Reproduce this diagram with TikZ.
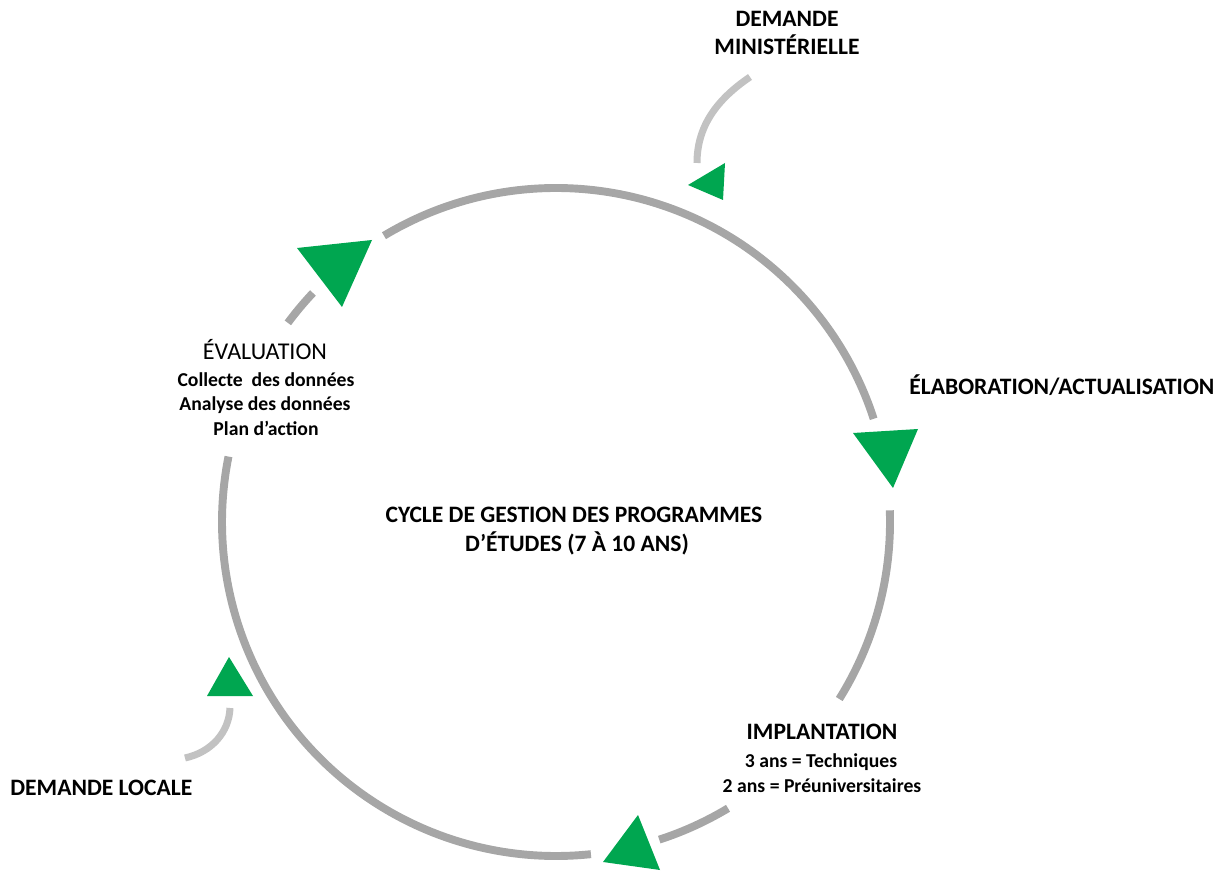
\documentclass[tikz,border=0pt]{standalone}
\usepackage{fontspec}
\setmainfont{Carlito}
\usepackage{tikz}
\usetikzlibrary{calc}

\definecolor{cycgreen}{HTML}{00A650}
\definecolor{cycgray}{HTML}{A6A6A6}
\definecolor{sidegray}{HTML}{C2C2C2}

\tikzset{
    head/.style={font=\fontsize{13.4}{16}\selectfont\bfseries, inner sep=0pt},
    headlight/.style={font=\fontsize{13.7}{16}\selectfont, inner sep=0pt},
    sub/.style={font=\fontsize{11.2}{13}\selectfont\bfseries, inner sep=0pt},
    ring/.style={draw=cycgray, line width=4.5pt},
    feed/.style={draw=sidegray, line width=4pt},
    tip/.style={fill=cycgreen}
}

\begin{document}
\begin{tikzpicture}[x=0.02cm, y=0.02cm]
        \useasboundingbox (0,0) rectangle (1226,872);
        \coordinate (c) at (556,350);
        % ring pieces
        \draw[ring] (c) ++(121:334) arc[start angle=121, end angle=18, radius=334];
        \draw[ring] (c) ++(2:334) arc[start angle=2, end angle=-32, radius=334];
        \draw[ring] (c) ++(-59:334) arc[start angle=-59, end angle=-72, radius=334];
        \draw[ring] (c) ++(-84:334) arc[start angle=-84, end angle=-191.3, radius=334];
        \draw[ring] (c) ++(136.7:334) arc[start angle=136.7, end angle=143.4, radius=334];
        % green heads
        \fill[tip] (297,624) -- (372,632) -- (342,565) -- cycle;
        \fill[tip] (853,439) -- (918,443) -- (893,384) -- cycle;
        \fill[tip] (638,57) -- (603,10) -- (660,2) -- cycle;
        \fill[tip] (725,709) -- (688,687) -- (723,672) -- cycle;
        \fill[tip] (229,215) -- (207,176) -- (253,176) -- cycle;
        % labels
        \node[head, anchor=base] (dm1) at (787,845) {DEMANDE};
        \node[head, anchor=base] (dm2) at (787,817) {MINISTÉRIELLE};
        \node[head, anchor=base west] (loc) at (10,77) {DEMANDE LOCALE};
        \node[head, anchor=base west] (elab) at (909,477) {ÉLABORATION/ACTUALISATION};
        \node[headlight, anchor=base] (eval) at (265,512) {ÉVALUATION};
        \node[sub, anchor=base] (eval1) at (266,485) {Collecte\ \ des données};
        \node[sub, anchor=base] (eval2) at (265,461) {Analyse des données};
        \node[sub, anchor=base] (eval3) at (266,436) {Plan d’action};
        \node[head, anchor=base] (cyc1) at (574,349) {CYCLE DE GESTION DES PROGRAMMES};
        \node[head, anchor=base] (cyc2) at (577,320) {D’ÉTUDES (7 À 10 ANS)};
        \node[head, anchor=base] (impl) at (822,133) {IMPLANTATION};
        \node[sub, anchor=base] (impl1) at (821,105) {3 ans = Techniques};
        \node[sub, anchor=base] (impl2) at (822,80) {2 ans = Préuniversitaires};
        % side requests
        \coordinate (dmfrom) at (750,795);
        \coordinate (dmto) at (697,709);
        \coordinate (locfrom) at (230,164);
        \coordinate (locto) at (185,114);
        \draw[feed] (dmfrom) .. controls (716,772) and (697,745) .. (dmto);
        \draw[feed] (locfrom) .. controls (229,140) and (212,120) .. (locto);
    \end{tikzpicture}
\end{document}
